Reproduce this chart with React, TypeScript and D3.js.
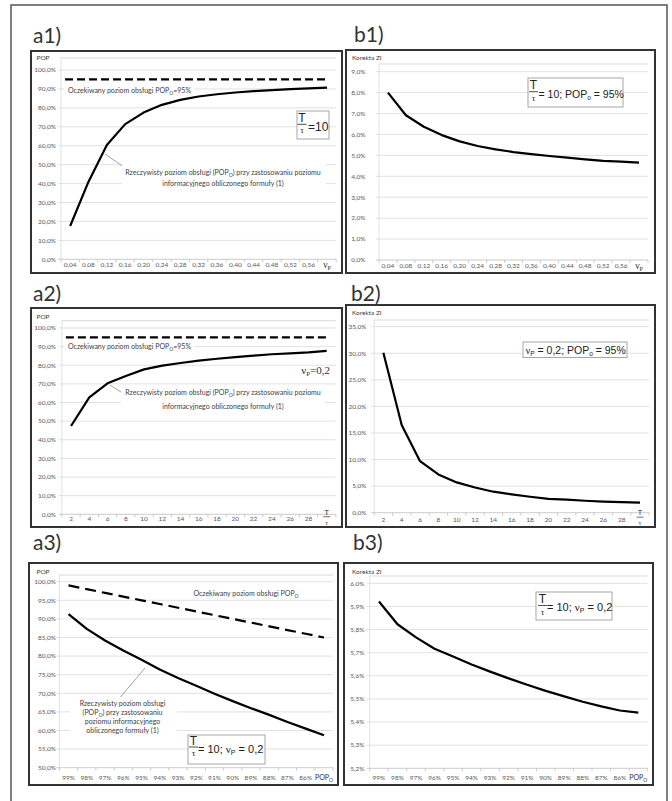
import * as d3 from "d3";
import type { ReactNode } from "react";

// values
const VP = [0.04, 0.08, 0.12, 0.16, 0.2, 0.24, 0.28, 0.32, 0.36, 0.4, 0.44, 0.48, 0.52, 0.56, 0.6];
const A1_POP = [17.6, 41, 60.4, 71.4, 77.5, 81.6, 84.2, 86, 87.2, 88.1, 88.8, 89.4, 89.9, 90.3, 90.7];
const B1_ZI = [8.0, 6.92, 6.37, 5.97, 5.67, 5.45, 5.29, 5.16, 5.06, 4.97, 4.89, 4.81, 4.74, 4.7, 4.65];
const T_TAU = [2, 4, 6, 8, 10, 12, 14, 16, 18, 20, 22, 24, 26, 28, 30];
const A2_POP = [47.4, 62.8, 70.3, 74.2, 77.8, 79.8, 81.2, 82.5, 83.5, 84.4, 85.2, 85.9, 86.4, 86.9, 87.7];
const B2_ZI = [30.1, 16.5, 9.7, 7.2, 5.7, 4.75, 3.95, 3.45, 3.0, 2.6, 2.45, 2.25, 2.1, 2.0, 1.9];
const POP_O = [99, 98, 97, 96, 95, 94, 93, 92, 91, 90, 89, 88, 87, 86, 85];
const A3_POP = [91.3, 87.3, 84.2, 81.5, 79.0, 76.4, 74.1, 72.0, 69.9, 67.9, 66.0, 64.2, 62.3, 60.5, 58.7];
const B3_ZI = [5.921, 5.823, 5.766, 5.717, 5.683, 5.649, 5.618, 5.589, 5.561, 5.535, 5.511, 5.488, 5.468, 5.45, 5.441];
const POP_EXPECTED = 95;

const FONT = "Lato, 'Open Sans', sans-serif";
const ARIAL = "'Liberation Sans', Arial, sans-serif";
const SERIF = "'Liberation Serif', 'DejaVu Serif', serif";
const GRID = "#d9d9d9";
const AXIS = "#bfbfbf";
const LABEL = "#595959";
const TEXT = "#404040";

const pl = d3.formatLocale({ decimal: ",", thousands: " ", grouping: [3], currency: ["", ""] });
const pct1 = (v: number) => pl.format(".1f")(v) + "%";
const fmt2 = pl.format(".2f");

interface Scales {
  cx: (i: number) => number;
  y: d3.ScaleLinear<number, number>;
}

interface PanelProps {
  title: string;
  titlePos: [number, number];
  box: [number, number, number, number];
  xSpan: [number, number];
  cats: number[];
  catFormat: (v: number) => string;
  yDomain: [number, number];
  ySpan: [number, number];
  yTicks: number;
  topY: number;
  yName: string;
  yNamePos: [number, number];
  yNameAnchor: "start" | "middle";
  yLabelX: number;
  xLabelY: number;
  lines: { values: number[]; dash?: string }[];
  expected?: number;
  xName: (x: number, y: number) => ReactNode;
  children?: (s: Scales) => ReactNode;
}

function Panel(p: PanelProps) {
  const x = d3.scaleBand<number>().domain(p.cats).range(p.xSpan);
  const cx = (i: number) => (x(p.cats[i]) ?? 0) + x.bandwidth() / 2;
  const y = d3.scaleLinear().domain(p.yDomain).range(p.ySpan);
  const ticks = y.ticks(p.yTicks);
  const y0 = y(p.yDomain[0]);
  const line = d3.line<number>().x((_, i) => cx(i)).y((d) => y(d));
  const [bx, by, bw, bh] = p.box;
  const bounds = [...p.cats.map((c) => x(c) ?? 0), p.xSpan[1]];
  const last = p.cats.length - 1;

  return (
    <g>
      <text x={p.titlePos[0]} y={p.titlePos[1]} fontSize={21} fill="#333">{p.title}</text>
      <rect x={bx} y={by} width={bw} height={bh} fill="#fff" stroke="#333" strokeWidth={2} />
      <line x1={p.xSpan[0]} x2={p.xSpan[1]} y1={p.topY} y2={p.topY} stroke={GRID} />
      {ticks.map((t) => (
        <line key={t} x1={p.xSpan[0] - 3} x2={p.xSpan[1]} y1={y(t)} y2={y(t)}
          stroke={t === ticks[0] ? AXIS : GRID} strokeWidth={0.8} />
      ))}
      <line x1={p.xSpan[0]} x2={p.xSpan[0]} y1={p.topY} y2={y0} stroke={GRID} strokeWidth={0.8} />
      {bounds.map((b, i) => (
        <line key={i} x1={b} x2={b} y1={y0} y2={y0 + 3} stroke={AXIS} strokeWidth={0.8} />
      ))}
      {ticks.map((t) => (
        <text key={t} x={p.yLabelX} y={y(t)} dy="0.35em" textAnchor="end" fontSize={6.5} fill={LABEL}>
          {pct1(t)}
        </text>
      ))}
      {p.cats.slice(0, -1).map((c, i) => (
        <text key={c} x={cx(i)} y={p.xLabelY} dy="0.35em" textAnchor="middle" fontSize={6.5} fill={LABEL}>
          {p.catFormat(c)}
        </text>
      ))}
      {p.xName(cx(last), p.xLabelY)}
      <text x={p.yNamePos[0]} y={p.yNamePos[1]} dy="0.35em" textAnchor={p.yNameAnchor} fontSize={6.5} fill={TEXT}>
        {p.yName}
      </text>
      {p.expected !== undefined && (
        <line x1={p.xSpan[0] + 4} x2={cx(last)} y1={y(p.expected)} y2={y(p.expected)}
          stroke="#000" strokeWidth={2.2} strokeDasharray="8,4" />
      )}
      {p.lines.map((s, i) => (
        <path key={i} d={line(s.values) ?? ""} fill="none" stroke="#000" strokeWidth={2.2}
          strokeDasharray={s.dash} strokeLinejoin="round" />
      ))}
      {p.children?.({ cx, y })}
    </g>
  );
}

// subscript that does not move the text after it
const Sub = ({ children, size = 6 }: { children: string; size?: number }) => (
  <tspan baselineShift={-2} fontSize={size}>{children}</tspan>
);

const vpName = (x: number, y: number) => (
  <text x={x} y={y + 3} textAnchor="middle" fontFamily={SERIF} fontSize={9.5} fill="#333">
    ν<Sub size={6}>P</Sub>
  </text>
);

const tTauName = (x: number, y: number) => (
  <g fill="#333">
    <text x={x} y={y - 4.5} textAnchor="middle" fontFamily={ARIAL} fontSize={8}>T</text>
    <line x1={x - 3.5} x2={x + 3.5} y1={y - 2.3} y2={y - 2.3} stroke="#333" strokeWidth={0.7} />
    <text x={x} y={y + 5.5} textAnchor="middle" fontFamily={SERIF} fontSize={7}>τ</text>
  </g>
);

const popName = (x: number, y: number) => (
  <text x={x} y={y} dy="0.35em" textAnchor="middle" fontSize={7} fill="#333">
    POP<Sub size={5}>O</Sub>
  </text>
);

function FracBox({ box, tx, ty, children }: { box: [number, number, number, number]; tx: number; ty: number; children: ReactNode }) {
  const [x, y, w, h] = box;
  return (
    <g fill="#222">
      <rect x={x} y={y} width={w} height={h} fill="#fff" stroke="#a6a6a6" strokeWidth={1} />
      <text x={tx} y={ty - 2.5} textAnchor="middle" fontSize={12} fontFamily={ARIAL}>T</text>
      <line x1={tx - 4.5} x2={tx + 4.5} y1={ty} y2={ty} stroke="#222" strokeWidth={0.8} />
      <text x={tx} y={ty + 9} textAnchor="middle" fontSize={9} fontFamily={SERIF}>τ</text>
      {children}
    </g>
  );
}

export default function App() {
  return (
    <svg width={672} height={801} style={{ position: "absolute", left: 0, top: 0 }} fontFamily={FONT}>
      <rect x={0} y={0} width={672} height={801} fill="#fff" />
      <rect x={11} y={5} width={656} height={830} fill="none" stroke="#555" strokeWidth={1.5} />

      {/* a1 */}
      <Panel title="a1)" titlePos={[33, 43]} box={[31, 51, 311, 222]} xSpan={[61, 336.2]} cats={VP} catFormat={fmt2}
        yDomain={[0, 100]} ySpan={[259.3, 70]} yTicks={10} topY={58} yName="POP" yNamePos={[43, 58]}
        yNameAnchor="middle" yLabelX={56} xLabelY={265} lines={[{ values: A1_POP }]} expected={POP_EXPECTED}
        xName={vpName}>
        {() => (
          <g fontSize={7} fill={TEXT}>
            <rect x={64} y={85} width={130} height={10} fill="#fff" />
            <text x={68} y={92.5}>Oczekiwany poziom obsługi POP<Sub size={5}>O</Sub>=95%</text>
            <line x1={105} y1={154} x2={124} y2={167} stroke="#8c8c8c" strokeWidth={0.8} />
            <rect x={122} y={163} width={204} height={26} fill="#fff" />
            <text x={223} y={174.5} textAnchor="middle">
              Rzeczywisty poziom obsługi (POP<Sub size={5}>O</Sub>) przy zastosowaniu poziomu
            </text>
            <text x={223} y={186} textAnchor="middle">informacyjnego obliczonego formuły (1)</text>
            <FracBox box={[297, 111, 32, 28]} tx={302} ty={124.3}>
              <text x={308} y={130.5} fontSize={12} fontFamily={ARIAL}>=10</text>
            </FracBox>
          </g>
        )}
      </Panel>

      {/* b1 */}
      <Panel title="b1)" titlePos={[354, 42]} box={[346, 50, 309, 223]} xSpan={[379, 648]} cats={VP} catFormat={fmt2}
        yDomain={[0, 9]} ySpan={[260, 71.7]} yTicks={9} topY={64} yName="Korekta ZI" yNamePos={[352, 58]}
        yNameAnchor="start" yLabelX={365.5} xLabelY={266} lines={[{ values: B1_ZI }]} xName={vpName}>
        {() => (
          <FracBox box={[528, 78, 95, 29]} tx={533.5} ty={91.7}>
            <text x={538.5} y={97.5} fontSize={10.5} fontFamily={ARIAL}>
              = 10; POP<Sub size={6.5}>o</Sub> = 95%
            </text>
          </FracBox>
        )}
      </Panel>

      {/* a2 */}
      <Panel title="a2)" titlePos={[33, 301]} box={[31, 308, 311, 219]} xSpan={[61.9, 335.8]} cats={T_TAU} catFormat={String}
        yDomain={[0, 100]} ySpan={[514.3, 328]} yTicks={10} topY={320.7} yName="POP" yNamePos={[43, 317]}
        yNameAnchor="middle" yLabelX={56} xLabelY={519} lines={[{ values: A2_POP }]} expected={POP_EXPECTED}
        xName={tTauName}>
        {() => (
          <g fontSize={7} fill={TEXT}>
            <rect x={64} y={342} width={130} height={10} fill="#fff" />
            <text x={68} y={349}>Oczekiwany poziom obsługi POP<Sub size={5}>O</Sub>=95%</text>
            <text x={330} y={374} textAnchor="end" fontFamily={SERIF} fontSize={11} fill="#333">
              ν<Sub size={7}>P</Sub>=0,2
            </text>
            <line x1={110} y1={385} x2={121} y2={392} stroke="#8c8c8c" strokeWidth={0.8} />
            <rect x={121} y={387} width={204} height={25} fill="#fff" />
            <text x={223} y={395} textAnchor="middle">
              Rzeczywisty poziom obsługi (POP<Sub size={5}>O</Sub>) przy zastosowaniu poziomu
            </text>
            <text x={223} y={408.5} textAnchor="middle">informacyjnego obliczonego formuły (1)</text>
          </g>
        )}
      </Panel>

      {/* b2 */}
      <Panel title="b2)" titlePos={[351, 301]} box={[346, 305, 309, 222]} xSpan={[374.2, 649.2]} cats={T_TAU} catFormat={String}
        yDomain={[0, 35]} ySpan={[512.7, 326.7]} yTicks={7} topY={320} yName="Korekta ZI" yNamePos={[352, 313]}
        yNameAnchor="start" yLabelX={366.5} xLabelY={519.5} lines={[{ values: B2_ZI }]} xName={tTauName}>
        {() => (
          <g fill="#222">
            <rect x={523} y={342} width={104} height={15.5} fill="#fff" stroke="#a6a6a6" strokeWidth={1} />
            <text x={525.5} y={353.5} fontSize={10.5} fontFamily={ARIAL}>
              <tspan fontFamily={SERIF}>ν</tspan><Sub size={6.5}>P</Sub> = 0,2; POP<Sub size={6.5}>o</Sub> = 95%
            </text>
          </g>
        )}
      </Panel>

      {/* a3 */}
      <Panel title="a3)" titlePos={[33, 550]} box={[29, 563, 309, 222]} xSpan={[59.4, 333.1]} cats={POP_O} catFormat={(v) => v + "%"}
        yDomain={[50, 100]} ySpan={[767.7, 581.7]} yTicks={10} topY={575} yName="POP" yNamePos={[43, 572]}
        yNameAnchor="middle" yLabelX={56} xLabelY={778} lines={[{ values: POP_O, dash: "11,6" }, { values: A3_POP }]}
        xName={popName}>
        {() => (
          <g fontSize={7} fill={TEXT}>
            <rect x={191} y={589} width={110} height={9} fill="#fff" />
            <text x={246} y={596} textAnchor="middle">Oczekiwany poziom obsługi POP<Sub size={5}>O</Sub></text>
            <line x1={145} y1={668} x2={118} y2={700} stroke="#8c8c8c" strokeWidth={0.8} />
            <rect x={70} y={697} width={107} height={39} fill="#fff" />
            <text x={122.5} y={705.5} textAnchor="middle">Rzeczywisty poziom obsługi</text>
            <text x={122.5} y={714.7} textAnchor="middle">(POP<Sub size={5}>O</Sub>) przy zastosowaniu</text>
            <text x={122.5} y={724} textAnchor="middle">poziomu informacyjnego</text>
            <text x={122.5} y={733.3} textAnchor="middle">obliczonego formuły (1)</text>
            <FracBox box={[188, 735, 77, 29]} tx={193.5} ty={747}>
              <text x={198} y={752.5} fontSize={11} fontFamily={ARIAL}>
                = 10; <tspan fontFamily={SERIF}>ν</tspan><Sub size={7}>P</Sub> = 0,2
              </text>
            </FracBox>
          </g>
        )}
      </Panel>

      {/* b3 */}
      <Panel title="b3)" titlePos={[353, 550]} box={[344, 563, 309, 222]} xSpan={[369.7, 647.6]} cats={POP_O} catFormat={(v) => v + "%"}
        yDomain={[5.2, 6.0]} ySpan={[768.3, 583.3]} yTicks={8} topY={576} yName="Korekta ZI" yNamePos={[352, 572]}
        yNameAnchor="start" yLabelX={364.5} xLabelY={778} lines={[{ values: B3_ZI }]} xName={popName}>
        {() => (
          <FracBox box={[536, 592, 76, 28]} tx={542.5} ty={605.5}>
            <text x={547} y={610.5} fontSize={11} fontFamily={ARIAL}>
              = 10; <tspan fontFamily={SERIF}>ν</tspan><Sub size={7}>P</Sub> = 0,2
            </text>
          </FracBox>
        )}
      </Panel>
    </svg>
  );
}
